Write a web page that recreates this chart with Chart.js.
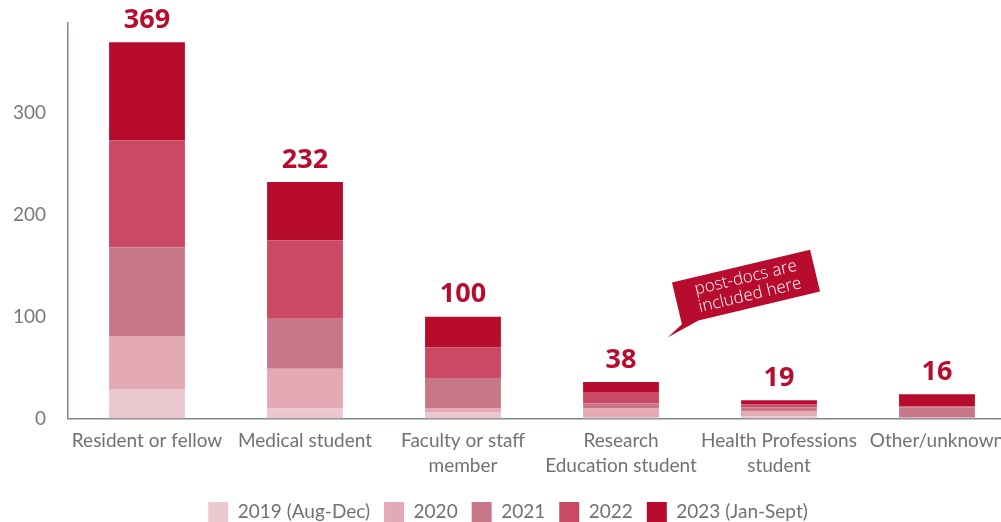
<!DOCTYPE html>
<html>
<head>
<meta charset="utf-8">
<script src="https://cdn.jsdelivr.net/npm/chart.js@4.4.0/dist/chart.umd.min.js"></script>
<style>
  html, body { margin: 0; padding: 0; overflow: hidden; background: #fff; }
  #wrap { position: absolute; left: 0; top: 0; width: 1030px; height: 532px; }
</style>
</head>
<body>
<div id="wrap"><canvas id="barChart"></canvas></div>
<script>
const categories = [
    'Resident or fellow',
    'Medical student',
    ['Faculty or staff', 'member'],
    ['Research', 'Education student'],
    ['Health Professions', 'student'],
    'Other/unknown'
];
const seriesNames = ['2019 (Aug-Dec)', '2020', '2021', '2022', '2023 (Jan-Sept)'];
const values2019 = [29, 10, 6, 1, 2, 0];
const values2020 = [52, 39, 4, 9, 5, 1];
const values2021 = [87, 49, 29, 5, 4, 10];
const values2022 = [105, 77, 31, 11, 3, 1];
const values2023 = [96, 57, 30, 10, 4, 12];
const totalLabels = ['369', '232', '100', '38', '19', '16'];
const yTicks = [0, 100, 200, 300];

const colors = ['#ebc8cf', '#e3a9b5', '#c87789', '#c94a62', '#b80c2e'];
const fontFamily = 'Lato, "Open Sans", sans-serif';

const totalsPlugin = {
    id: 'totals',
    afterDatasetsDraw(chart) {
        const ctx = chart.ctx;
        const lastMeta = chart.getDatasetMeta(chart.data.datasets.length - 1);
        ctx.save();
        ctx.fillStyle = '#b80c2e';
        ctx.font = '700 27px "Open Sans", sans-serif';
        ctx.textAlign = 'center';
        ctx.textBaseline = 'middle';
        lastMeta.data.forEach(function (bar, i) {
            ctx.fillText(totalLabels[i], bar.x, bar.y - 22);
        });
        ctx.restore();
    }
};

const calloutPlugin = {
    id: 'callout',
    afterDraw(chart) {
        const ctx = chart.ctx;
        ctx.save();
        ctx.translate(746, 287);
        ctx.rotate(-13.4 * Math.PI / 180);
        ctx.fillStyle = '#b80c2e';
        ctx.beginPath();
        ctx.moveTo(-71, -21.5);
        ctx.lineTo(71, -21.5);
        ctx.lineTo(71, 21.5);
        ctx.lineTo(-54, 21.5);
        ctx.lineTo(-88, 31);
        ctx.lineTo(-71, 21.5);
        ctx.closePath();
        ctx.fill();
        ctx.fillStyle = '#fff';
        ctx.font = '300 17px "Open Sans", sans-serif';
        ctx.textAlign = 'center';
        ctx.textBaseline = 'middle';
        ctx.fillText('post-docs are', 2, -9);
        ctx.fillText('included here', 2, 9);
        ctx.restore();
    }
};

const datasetValues = [values2019, values2020, values2021, values2022, values2023];

const ctx = document.getElementById('barChart').getContext('2d');
new Chart(ctx, {
    type: 'bar',
    data: {
        labels: categories,
        datasets: seriesNames.map(function (name, i) {
            return {
                label: name,
                data: datasetValues[i],
                backgroundColor: colors[i],
                borderWidth: 0,
                barPercentage: 0.48,
                categoryPercentage: 1
            };
        })
    },
    options: {
        responsive: true,
        maintainAspectRatio: false,
        animation: false,
        layout: { padding: { top: 23, right: 14, left: 0, bottom: 0 } },
        scales: {
            x: {
                stacked: true,
                grid: { display: false, drawTicks: false },
                border: { display: true, color: '#7d8791', width: 1.5 },
                ticks: {
                    color: '#6f7173',
                    font: { family: fontFamily, size: 19, lineHeight: 1.3 },
                    padding: 10,
                    maxRotation: 0,
                    autoSkip: false
                }
            },
            y: {
                stacked: true,
                min: 0,
                max: 388,
                afterFit: function (scale) {
                    scale.width = 68;
                    scale.paddingTop = 0;
                    scale.paddingBottom = 0;
                },
                afterBuildTicks: function (scale) {
                    scale.ticks = yTicks.map(function (v) { return { value: v }; });
                },
                grid: { display: false, drawTicks: false },
                border: { display: true, color: '#7d8791', width: 1.5 },
                ticks: {
                    color: '#777a7d',
                    font: { family: fontFamily, size: 19 },
                    padding: 22
                }
            }
        },
        plugins: {
            legend: {
                position: 'bottom',
                labels: {
                    boxWidth: 20,
                    boxHeight: 20,
                    padding: 14,
                    color: '#6f7173',
                    font: { family: fontFamily, size: 19 }
                }
            },
            tooltip: { enabled: false }
        }
    },
    plugins: [totalsPlugin, calloutPlugin]
});
</script>
</body>
</html>
